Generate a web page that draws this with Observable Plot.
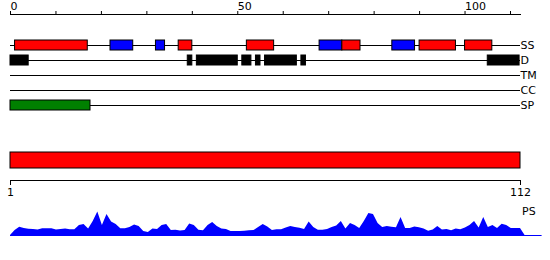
<!DOCTYPE html>
<html><head><meta charset="utf-8">
<script src="https://cdn.jsdelivr.net/npm/d3@7"></script>
<script src="https://cdn.jsdelivr.net/npm/@observablehq/plot@0.6"></script>
<style>
body{margin:0;background:#fff;}
#chart{position:relative;width:550px;height:260px;font-family:"DejaVu Sans",sans-serif;background:#fff;}
#chart svg{position:absolute;left:0;}
</style></head><body><div id="chart"></div>
<script>
// Tracks
const tracks = ["SS", "D", "TM", "CC", "SP"];
// Secondary structure (SS): red = helix, blue = strand
const ssStart = [1, 22, 32, 37, 52, 68, 73, 84, 90, 100];
const ssEnd   = [17, 27, 34, 40, 58, 73, 77, 89, 98, 106];
const ssKind  = ["H", "E", "E", "H", "H", "E", "H", "E", "H", "H"];
// Disorder (D)
const dStart = [0, 39, 41, 51, 54, 56, 64, 105];
const dEnd   = [4, 40, 50, 53, 55, 63, 65, 112];
// Signal peptide (SP)
const spStart = [0];
const spEnd = [17.6];
// Top ruler ticks
const rulerTicks = [0, 10, 20, 30, 40, 50, 60, 70, 80, 90, 100, 110];
const rulerLabels = [0, 50, 100];
// Protein length bar
const seqStart = 1, seqEnd = 112;
const seqTicks = [1, 112];
// PS profile, one value per residue (1..113)
const psValues = [0, 5, 8.3, 7, 6.3, 6, 5.5, 6.7, 6.8, 6.8,
  5.5, 6, 6.5, 5.7, 5.7, 10, 11, 6.5, 14, 23.5,
  10, 21, 13.5, 11, 6.7, 6.8, 8, 10.5, 9, 4,
  3, 6.5, 6, 10, 11, 5, 5.3, 4.5, 5, 11.5,
  10, 5.2, 4.7, 10, 13, 9, 6.5, 6, 4, 4,
  4, 4.3, 4.7, 5, 8, 11, 8.5, 5, 5.7, 5.7,
  7.5, 9, 8, 7.3, 6, 13.5, 8, 5.3, 5.3, 6,
  8, 9.5, 14, 6.5, 12, 10, 7, 14, 22, 21,
  12, 8, 9, 8.3, 7.8, 18, 7, 7, 8.6, 7.8,
  6.5, 4.2, 5.5, 9, 5.5, 6, 4.8, 6.5, 5.8, 7.5,
  10, 14, 7.5, 18, 8, 10, 7, 11.3, 10, 7,
  7, 7, 0];
const psBaselineEnd = 116.7;

const kindColor = {H: "#ff0000", E: "#0000ff"};
const ssData = ssStart.map((s, i) => ({x1: s, x2: ssEnd[i], kind: ssKind[i]}));
const dData = dStart.map((s, i) => ({x1: s, x2: dEnd[i]}));
const spData = spStart.map((s, i) => ({x1: s, x2: spEnd[i]}));

const chart = document.getElementById("chart");
const font = {fontFamily: "DejaVu Sans, sans-serif", fontSize: 11};

const trackPlot = Plot.plot({
  width: 550, height: 115,
  marginLeft: 10, marginRight: 30, marginTop: 14, marginBottom: 0,
  style: {...font, background: "white", color: "black", overflow: "visible"},
  x: {domain: [0, 112.2], label: null},
  y: {type: "band", domain: tracks, range: [37.5, 112.5], paddingInner: 1/3, paddingOuter: 1/6, axis: null},
  marks: [
    Plot.frame({anchor: "top", stroke: "black"}),
    Plot.axisX(rulerTicks, {anchor: "top", tickSize: 4, tickPadding: 1, label: null,
      tickFormat: d => rulerLabels.includes(d) ? String(d) : "", textAnchor: "start", fontSize: 11}),
    Plot.ruleY(tracks, {y: d => d, x1: 0, x2: 112.2, stroke: "black"}),
    Plot.barX(ssData, {x1: "x1", x2: "x2", y: () => "SS", fill: d => kindColor[d.kind], stroke: "black"}),
    Plot.barX(dData, {x1: "x1", x2: "x2", y: () => "D", fill: "black", stroke: "black"}),
    Plot.barX(spData, {x1: "x1", x2: "x2", y: () => "SP", fill: "#008000", stroke: "black"}),
    Plot.text(tracks, {y: d => d, x: () => 112.2, text: d => d, textAnchor: "start", fontSize: 11, fill: "black"})
  ]
});
trackPlot.style.top = "0px";
chart.appendChild(trackPlot);

const seqPlot = Plot.plot({
  width: 550, height: 65,
  marginLeft: 10, marginRight: 30, marginTop: 0, marginBottom: 25,
  style: {...font, background: "transparent", color: "black", overflow: "visible"},
  x: {domain: [seqStart, seqEnd], label: null},
  y: {type: "band", domain: ["protein"], range: [10, 30], axis: null},
  marks: [
    Plot.barX([{x1: seqStart, x2: seqEnd}], {x1: "x1", x2: "x2", y: () => "protein", fill: "#ff0000", stroke: "black"}),
    Plot.frame({anchor: "bottom", stroke: "black"}),
    Plot.axisX(seqTicks, {anchor: "bottom", tickSize: 5, tickPadding: 3, label: null, fontSize: 11})
  ]
});
seqPlot.style.top = "140px";
chart.appendChild(seqPlot);

const psPlot = Plot.plot({
  width: 550, height: 65,
  marginLeft: 10, marginRight: 30, marginTop: 0, marginBottom: 0,
  style: {...font, background: "transparent", color: "black", overflow: "visible"},
  x: {domain: [seqStart, seqEnd], axis: null},
  y: {domain: [0, 24], range: [40, 16], axis: null},
  marks: [
    Plot.areaY(psValues, {x: (d, i) => i + 1, y: d => d, fill: "#0000ff", curve: "linear"}),
    Plot.ruleY([0], {x1: seqStart, x2: psBaselineEnd, stroke: "#0000ff"}),
    Plot.text(["PS"], {x: () => seqEnd, y: () => 24, text: d => d, textAnchor: "start", dx: 1.5, fontSize: 11, fill: "black"})
  ]
});
psPlot.style.top = "195px";
chart.appendChild(psPlot);
</script></body></html>
